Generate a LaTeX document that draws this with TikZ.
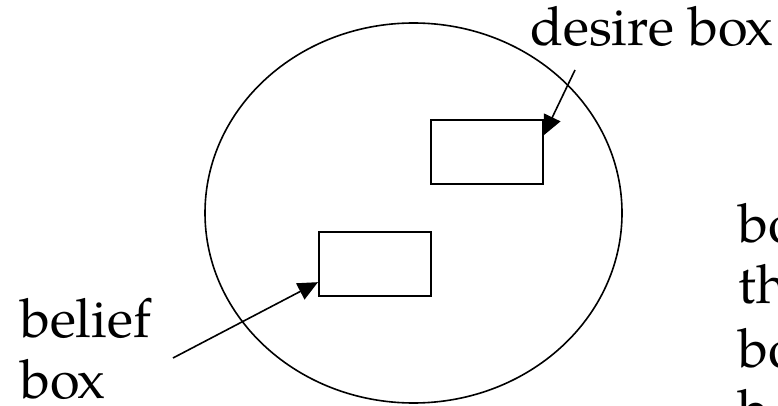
\documentclass[tikz,border=0pt]{standalone}
\usepackage{fontspec}
\setmainfont{texgyrepagella}[Extension=.otf, UprightFont=*-regular]
\usetikzlibrary{arrows.meta,calc,shapes.geometric}
\tikzset{
  outline/.style={draw=black, line width=1.6pt},
  smallbox/.style={outline, fill=white, rectangle, minimum width=112pt, minimum height=64pt, inner sep=0pt, anchor=north west},
  pointer/.style={line width=1.6pt, -{Triangle[length=20pt,width=18pt]}},
  lbl/.style={anchor=base west, inner sep=0pt, font=\fontsize{54}{61}\selectfont}
}
\begin{document}
\begin{tikzpicture}[x=1pt,y=-1pt]
\useasboundingbox (0,0) rectangle (778,406);
\clip (0,0) rectangle (778,406);
\node[outline, ellipse, minimum width=417pt, minimum height=380pt, inner sep=0pt] (mind) at (413.5,213) {};
\coordinate (dstart) at (575,70);
\coordinate (bstart) at (173,358);
\node[smallbox] (dbox) at (430,119) {};
\node[smallbox] (bbox) at (318,231) {};
\draw[pointer] (dstart) -- ($(dbox.north east)!0.25!(dbox.south east)$);
\draw[pointer] (bstart) -- ($(bbox.north west)!0.78!(bbox.south west)$);
\node[lbl] (dlabel) at (530,46) {desire box};
\node[lbl] (blabel1) at (20,337) {belief};
\node[lbl] (blabel2) at (20,398) {box};
\node[lbl] (r1) at (738,242) {bo};
\node[lbl] (r2) at (738,303) {th};
\node[lbl] (r3) at (738,367) {bo};
\node[lbl] (r4) at (738,428) {b};
\end{tikzpicture}
\end{document}
